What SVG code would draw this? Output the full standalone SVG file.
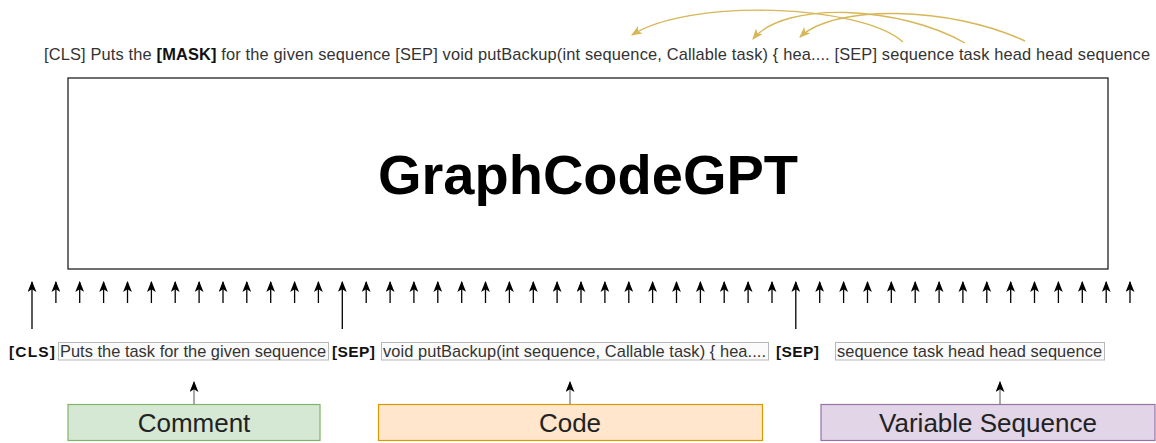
<svg xmlns="http://www.w3.org/2000/svg" width="1156" height="443" viewBox="0 0 1156 443">
  <style>
    .txt { font-family: "Liberation Sans", Arial, sans-serif; fill: #333333; }
    .bold { font-weight: bold; fill: #111111; }
    .tok { fill: #fbfbfb; stroke: #b8b8b8; stroke-width: 1; }
    .up { stroke: #000000; stroke-width: 1.3; fill: none; marker-end: url(#head); }
    .feed { stroke: #555555; stroke-width: 1; fill: none; marker-end: url(#head); }
    .link { stroke: #d6b656; stroke-width: 1.4; fill: none; marker-end: url(#goldHead); }
    .lbl { font-family: "Liberation Sans", Arial, sans-serif; font-size: 26px; fill: #222222; text-anchor: middle; }
  </style>
  <defs>
    <marker id="head" viewBox="0 0 10 8" refX="9" refY="4" markerWidth="11" markerHeight="9" markerUnits="userSpaceOnUse" orient="auto">
      <path d="M0,0 L10,4 L0,8 L2.5,4 z" fill="#000000"/>
    </marker>
    <marker id="goldHead" viewBox="0 0 10 8" refX="9" refY="4" markerWidth="11" markerHeight="9" markerUnits="userSpaceOnUse" orient="auto">
      <path d="M0,0 L10,4 L0,8 L2.5,4 z" fill="#d6b656"/>
    </marker>
  </defs>

  <!-- masked input sequence with variable links -->
  <g id="masked-sequence">
    <text class="txt" x="44" y="60" font-size="16.4" textLength="1106" lengthAdjust="spacing">[CLS] Puts the <tspan class="bold">[MASK]</tspan> for the given sequence [SEP] void putBackup(int sequence, Callable task) { hea.... [SEP] sequence task head head sequence</text>
  </g>

  <!-- encoder block -->
  <g id="encoder">
    <rect x="68" y="78" width="1040" height="191" fill="#ffffff" stroke="#222222" stroke-width="1.3"/>
    <text x="588" y="194" text-anchor="middle" font-family="Liberation Sans, Arial, sans-serif" font-size="56" font-weight="bold" fill="#000000">GraphCodeGPT</text>
  </g>

  <!-- input tokens -->
  <g id="tokens">
    <text class="txt bold" x="9" y="357" font-size="15.5" textLength="46" lengthAdjust="spacing">[CLS]</text>
    <rect class="tok" x="58.5" y="342.5" width="270" height="17.5"/>
    <text class="txt" x="60" y="357" font-size="16.4" textLength="266" lengthAdjust="spacing">Puts the task for the given sequence</text>
    <text class="txt bold" x="332" y="357" font-size="15.5" textLength="43" lengthAdjust="spacing">[SEP]</text>
    <rect class="tok" x="381.5" y="342.5" width="387" height="17.5"/>
    <text class="txt" x="383" y="357" font-size="16.4" textLength="383" lengthAdjust="spacing">void putBackup(int sequence, Callable task) { hea....</text>
    <text class="txt bold" x="776" y="357" font-size="15.5" textLength="43" lengthAdjust="spacing">[SEP]</text>
    <rect class="tok" x="835.5" y="342.5" width="269" height="17.5"/>
    <text class="txt" x="837" y="357" font-size="16.4" textLength="265" lengthAdjust="spacing">sequence task head head sequence</text>
  </g>

  <!-- source segments -->
  <g id="comment">
    <rect x="68" y="404.5" width="252" height="36" fill="#d5e8d4" stroke="#82b366" stroke-width="1.2"/>
    <text class="lbl" x="194" y="432">Comment</text>
  </g>
  <g id="code">
    <rect x="378.5" y="404.5" width="384" height="36" fill="#ffe6cc" stroke="#d79b00" stroke-width="1.2"/>
    <text class="lbl" x="570" y="432">Code</text>
  </g>
  <g id="variable-sequence">
    <rect x="821" y="404.5" width="334" height="36" fill="#e1d5e7" stroke="#9673a6" stroke-width="1.2"/>
    <text class="lbl" x="988" y="432">Variable Sequence</text>
  </g>

  <g id="connectors">
    <!-- data-flow edges from variables to their code positions -->
    <path class="link" d="M903,42 C860,4 690,-2 632,35"/>
    <path class="link" d="M965,43 C900,6 785,0 753,39"/>
    <path class="link" d="M1025,41 C950,6 835,4 800,37"/>

    <!-- token inputs into the encoder -->
    <path class="up" d="M32,329 V282"/>
    <path class="up" d="M55.9,303 V282"/>
    <path class="up" d="M79.7,303 V282"/>
    <path class="up" d="M103.6,303 V282"/>
    <path class="up" d="M127.5,303 V282"/>
    <path class="up" d="M151.4,303 V282"/>
    <path class="up" d="M175.2,303 V282"/>
    <path class="up" d="M199.1,303 V282"/>
    <path class="up" d="M223,303 V282"/>
    <path class="up" d="M246.8,303 V282"/>
    <path class="up" d="M270.7,303 V282"/>
    <path class="up" d="M294.6,303 V282"/>
    <path class="up" d="M318.4,303 V282"/>
    <path class="up" d="M342.3,329 V282"/>
    <path class="up" d="M366.2,303 V282"/>
    <path class="up" d="M390.1,303 V282"/>
    <path class="up" d="M413.9,303 V282"/>
    <path class="up" d="M437.8,303 V282"/>
    <path class="up" d="M461.7,303 V282"/>
    <path class="up" d="M485.5,303 V282"/>
    <path class="up" d="M509.4,303 V282"/>
    <path class="up" d="M533.3,303 V282"/>
    <path class="up" d="M557.1,303 V282"/>
    <path class="up" d="M581,303 V282"/>
    <path class="up" d="M604.9,303 V282"/>
    <path class="up" d="M628.8,303 V282"/>
    <path class="up" d="M652.6,303 V282"/>
    <path class="up" d="M676.5,303 V282"/>
    <path class="up" d="M700.4,303 V282"/>
    <path class="up" d="M724.2,303 V282"/>
    <path class="up" d="M748.1,303 V282"/>
    <path class="up" d="M772,303 V282"/>
    <path class="up" d="M795.8,329 V282"/>
    <path class="up" d="M819.7,303 V282"/>
    <path class="up" d="M843.6,303 V282"/>
    <path class="up" d="M867.5,303 V282"/>
    <path class="up" d="M891.3,303 V282"/>
    <path class="up" d="M915.2,303 V282"/>
    <path class="up" d="M939.1,303 V282"/>
    <path class="up" d="M962.9,303 V282"/>
    <path class="up" d="M986.8,303 V282"/>
    <path class="up" d="M1010.7,303 V282"/>
    <path class="up" d="M1034.5,303 V282"/>
    <path class="up" d="M1058.4,303 V282"/>
    <path class="up" d="M1082.3,303 V282"/>
    <path class="up" d="M1106.2,303 V282"/>
    <path class="up" d="M1130,303 V282"/>

    <!-- segments feeding token spans -->
    <path class="feed" d="M194,404 V382"/>
    <path class="feed" d="M570,404 V382"/>
    <path class="feed" d="M1000,404 V382"/>
  </g>
</svg>
